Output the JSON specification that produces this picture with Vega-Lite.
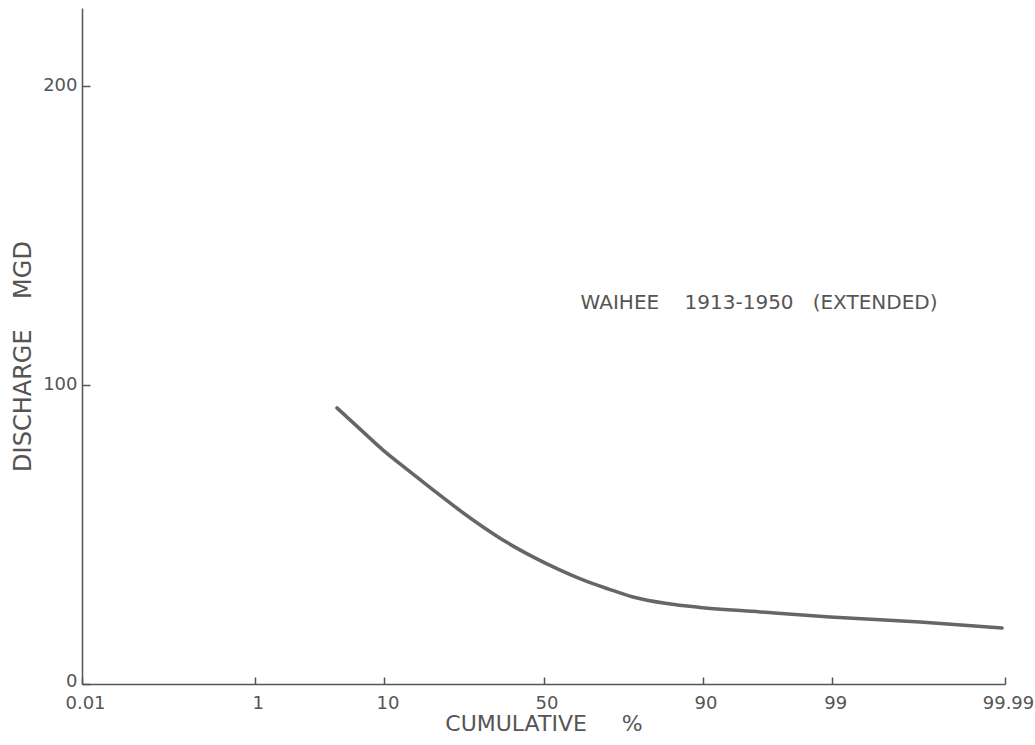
{
  "$schema": "https://vega.github.io/schema/vega-lite/v6.json",
  "width": 923,
  "height": 676,
  "autosize": {"type": "none"},
  "padding": {"left": 82, "top": 8, "right": 30, "bottom": 61},
  "background": "white",
  "config": {
    "view": {"stroke": null},
    "axis": {
      "grid": false,
      "domainColor": "#555555",
      "domainWidth": 1.5,
      "tickColor": "#555555",
      "tickWidth": 1.5,
      "labelColor": "#555555",
      "titleColor": "#555555",
      "labelFont": "DejaVu Sans",
      "titleFont": "DejaVu Sans",
      "labelFontWeight": "normal",
      "titleFontWeight": "normal",
      "labelFontSize": 18,
      "titleFontSize": 22
    }
  },
  "datasets": {
    "curve": [
      {"cumulative_pct": 4.8, "z": -1.664, "discharge": 92.3},
      {"cumulative_pct": 6.97, "z": -1.478, "discharge": 85.2},
      {"cumulative_pct": 9.8, "z": -1.293, "discharge": 78.2},
      {"cumulative_pct": 13.7, "z": -1.092, "discharge": 71.5},
      {"cumulative_pct": 18.7, "z": -0.89, "discharge": 64.9},
      {"cumulative_pct": 24.5, "z": -0.689, "discharge": 58.5},
      {"cumulative_pct": 31.3, "z": -0.487, "discharge": 52.5},
      {"cumulative_pct": 38.7, "z": -0.286, "discharge": 47.1},
      {"cumulative_pct": 46.6, "z": -0.085, "discharge": 42.5},
      {"cumulative_pct": 54.7, "z": 0.117, "discharge": 38.4},
      {"cumulative_pct": 62.5, "z": 0.318, "discharge": 34.8},
      {"cumulative_pct": 69.8, "z": 0.52, "discharge": 31.8},
      {"cumulative_pct": 76.5, "z": 0.721, "discharge": 29.1},
      {"cumulative_pct": 84.0, "z": 0.995, "discharge": 26.9},
      {"cumulative_pct": 89.6, "z": 1.261, "discharge": 25.6},
      {"cumulative_pct": 96.0, "z": 1.745, "discharge": 24.1},
      {"cumulative_pct": 98.95, "z": 2.309, "discharge": 22.4},
      {"cumulative_pct": 99.88, "z": 3.034, "discharge": 20.7},
      {"cumulative_pct": 99.989, "z": 3.695, "discharge": 18.7}
    ],
    "note": [
      {"label": "WAIHEE\u00a0\u00a0\u00a0\u00a01913-1950\u00a0\u00a0\u00a0(EXTENDED)"}
    ]
  },
  "layer": [
    {
      "data": {"name": "curve"},
      "mark": {"type": "line", "interpolate": "monotone", "color": "#666666", "strokeWidth": 3.5, "strokeCap": "round"},
      "encoding": {
        "x": {
          "field": "z",
          "type": "quantitative",
          "scale": {"domain": [-3.719, 3.719], "nice": false, "zero": false},
          "axis": {
            "values": [-3.719, -2.3263, -1.2816, 0, 1.2816, 2.3263, 3.719],
            "labelExpr": "datum.value < -3 ? '0.01' : datum.value < -2 ? '1' : datum.value < -1 ? '10' : datum.value < 1 ? '50' : datum.value < 2 ? '90' : datum.value < 3 ? '99' : '99.99'",
            "tickSize": -7,
            "labelPadding": 17,
            "labelFlush": false,
            "labelOffset": 3,
            "title": "CUMULATIVE\u00a0\u00a0\u00a0\u00a0\u00a0%",
            "titlePadding": 1
          }
        },
        "y": {
          "field": "discharge",
          "type": "quantitative",
          "scale": {"domain": [0, 226], "nice": false},
          "axis": {
            "values": [0, 100, 200],
            "tickSize": -8,
            "labelPadding": 13,
            "labelOffset": {"condition": {"test": "datum.value === 0", "value": -3}, "value": 0},
            "title": "DISCHARGE\u00a0\u00a0\u00a0\u00a0MGD",
            "titleFontSize": 24,
            "titlePadding": 7,
            "titleY": 348
          }
        }
      }
    },
    {
      "data": {"name": "note"},
      "mark": {"type": "text", "font": "DejaVu Sans", "fontWeight": "normal", "fontSize": 20, "color": "#555555"},
      "encoding": {
        "text": {"field": "label"},
        "x": {"datum": 1.737},
        "y": {"datum": 127.4}
      }
    }
  ]
}
